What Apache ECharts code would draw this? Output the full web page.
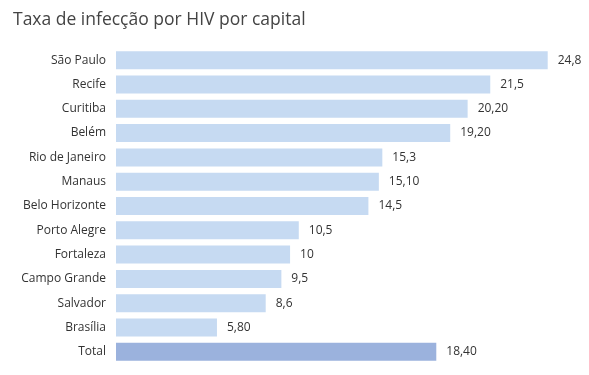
<!DOCTYPE html>
<html>
<head>
<meta charset="utf-8">
<script src="https://cdn.jsdelivr.net/npm/echarts@6/dist/echarts.min.js"></script>
<style>
  html, body { margin: 0; padding: 0; background: #fff; }
  #chart { width: 589px; height: 375px; }
</style>
</head>
<body>
<div id="chart"></div>
<script>
// dados (de cima para baixo)
const capitals = ['São Paulo', 'Recife', 'Curitiba', 'Belém', 'Rio de Janeiro', 'Manaus',
  'Belo Horizonte', 'Porto Alegre', 'Fortaleza', 'Campo Grande', 'Salvador', 'Brasília', 'Total']
const rates = [24.8, 21.5, 20.2, 19.2, 15.3, 15.1, 14.5, 10.5, 10, 9.5, 8.6, 5.8, 18.4]
const rateLabels = ['24,8', '21,5', '20,20', '19,20', '15,3', '15,10', '14,5', '10,5', '10', '9,5', '8,6', '5,80', '18,40']

const chart = echarts.init(document.getElementById('chart'))

const seriesData = rates.map((v, i) => ({
  value: v,
  itemStyle: { color: capitals[i] === 'Total' ? '#9bb2dd' : '#c6daf2' }
}))

chart.setOption({
  animation: false,
  title: {
    text: 'Taxa de infecção por HIV por capital',
    left: 8,
    top: 6,
    textStyle: {
      fontFamily: 'Open Sans',
      fontSize: 17.5,
      fontWeight: 'normal',
      color: '#444'
    }
  },
  grid: {
    left: 116,
    right: 3,
    top: 48,
    bottom: 11,
    containLabel: false
  },
  xAxis: {
    type: 'value',
    min: 0,
    max: 27,
    show: false
  },
  yAxis: {
    type: 'category',
    inverse: true,
    data: capitals,
    axisLine: { show: false },
    axisTick: { show: false },
    axisLabel: {
      margin: 10,
      fontFamily: 'Open Sans',
      fontSize: 12,
      color: '#333'
    }
  },
  series: [{
    type: 'bar',
    data: seriesData,
    barWidth: 18,
    label: {
      show: true,
      position: 'right',
      distance: 10,
      fontFamily: 'Open Sans',
      fontSize: 12,
      color: '#333',
      formatter: (p) => rateLabels[p.dataIndex]
    }
  }]
})
</script>
</body>
</html>
